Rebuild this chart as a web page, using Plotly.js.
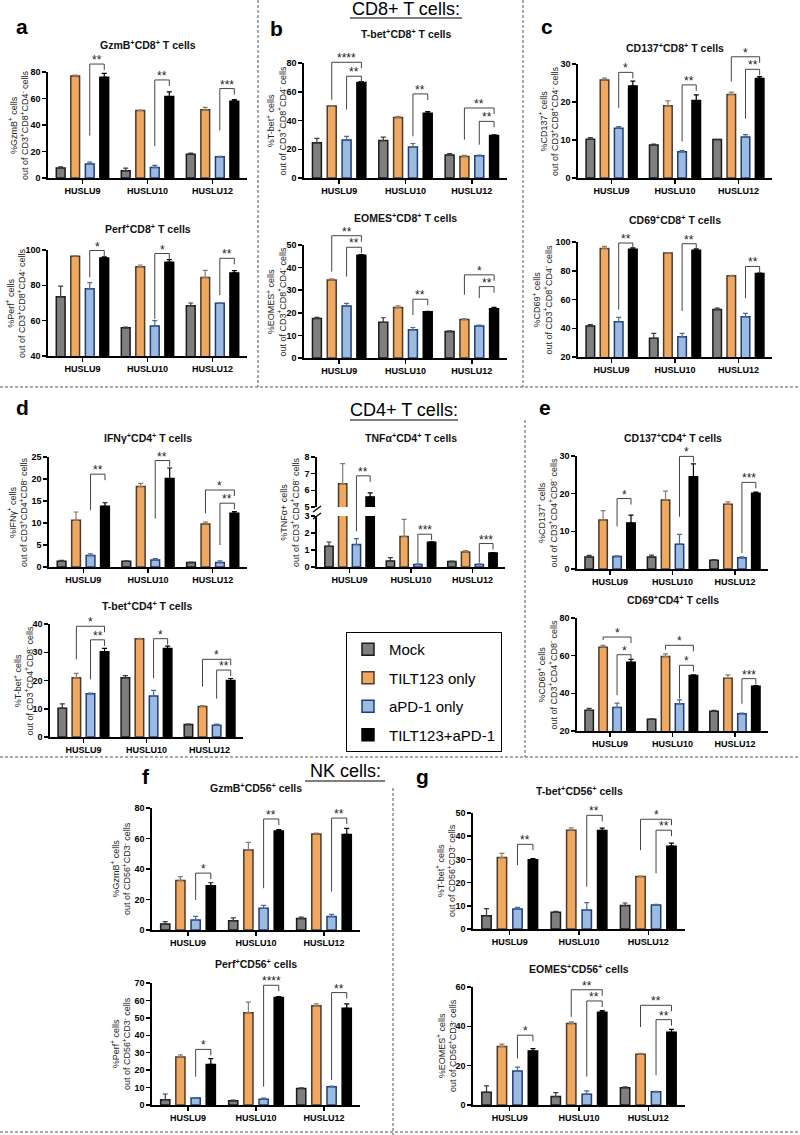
<!DOCTYPE html>
<html><head><meta charset="utf-8">
<script src="https://cdn.plot.ly/plotly-3.0.1.min.js"></script>
<style>html,body{margin:0;padding:0;background:#fff}#chart{width:800px;height:1135px}</style>
</head><body><div id="chart"></div>
<script>
// ---------- DATA ----------
const groups = ['HUSLU9','HUSLU10','HUSLU12'];
const seriesNames = ['Mock','TILT123 only','aPD-1 only','TILT123+aPD-1'];
// each *_mean / *_sem: [Mock, TILT123 only, aPD-1 only, TILT123+aPD-1] x [HUSLU9, HUSLU10, HUSLU12]
const gzmbCD8_mean = [[7.5,5.5,18],[77,51,51.5],[10.5,8,16],[76,61.5,58]];
const gzmbCD8_sem  = [[1,2,0.8],[0.6,0.3,1.8],[1.5,1.5,0.3],[3,3.5,1.2]];
const perfCD8_mean = [[73.5,56,68.5],[96.5,90.5,84.5],[78,57,69.8],[95.5,93,87]];
const perfCD8_sem  = [[6,0.3,1.5],[0.3,1,4],[3.5,3,0.3],[0.6,1.5,1.3]];
const tbetCD8_mean = [[24.5,26,16],[50,42,15],[26.5,21.5,15.5],[66.5,45,29.5]];
const tbetCD8_sem  = [[3,2.5,1],[0.2,0.8,0.8],[2.5,2.5,0.4],[0.6,1.2,0.6]];
const eomesCD8_mean = [[17.5,15.8,11.7],[34.5,22.3,17],[23,12.5,14.2],[45.5,20.5,21.8]];
const eomesCD8_sem  = [[0.5,2,0.3],[0.5,0.8,0.4],[1.2,1,0.4],[0.2,0.1,0.6]];
const cd137CD8_mean = [[10.2,8.7,10.1],[25.8,19,22],[13.1,6.9,10.8],[24.2,20.4,26.2]];
const cd137CD8_sem  = [[0.4,0.2,0.1],[0.5,1.3,0.6],[0.4,0.3,0.6],[1.3,1.5,0.5]];
const cd69CD8_mean = [[41.5,33,53],[95.5,92.3,76.5],[44.5,34,48],[95,94.3,78]];
const cd69CD8_sem  = [[1,3.5,1],[1.5,0.3,0.3],[3,2.5,2.3],[1,1,0.3]];
const ifngCD4_mean = [[1.3,1.3,1.0],[10.6,18.3,9.8],[2.6,1.6,1.0],[13.8,20.1,12.2]];
const ifngCD4_sem  = [[0.2,0.1,0.1],[1.9,0.7,0.4],[0.4,0.3,0.4],[0.8,2.4,0.4]];
const tnfaCD4_mean = [[1.22,0.35,0.32],[6.4,1.8,0.88],[1.32,0.15,0.15],[5.6,1.45,0.83]];
const tnfaCD4_sem  = [[0.25,0.2,0.03],[1.2,1.0,0.08],[0.35,0.03,0.03],[0.25,0.03,0.02]];
const tbetCD4_mean = [[10.2,21,4.4],[21,34.8,10.8],[15.3,14.5,4.2],[30.2,31.3,20]];
const tbetCD4_sem  = [[1.5,0.7,0.2],[1.5,0.1,0.3],[0.2,2,0.4],[1.2,0.9,0.7]];
const cd137CD4_mean = [[3.2,3.2,2.3],[13,18.3,17.2],[3.3,6.6,3],[12.2,24.5,20.1]];
const cd137CD4_sem  = [[0.4,0.5,0.2],[2.5,2.4,0.6],[0.2,2.6,0.2],[2.1,3.4,0.3]];
const cd69CD4_mean = [[31,26.2,30.5],[64.5,59.5,48],[32.5,34.5,29.2],[56.5,49.5,43.8]];
const cd69CD4_sem  = [[1,0.3,0.5],[1,1.5,1.8],[2.3,2,0.3],[1.5,0.3,0.3]];
const gzmbCD56_mean = [[4,6,7.5],[32.5,52.5,63],[6.5,14.2,8.8],[29,65,62.7]];
const gzmbCD56_sem  = [[1.5,2,1],[2.5,5,0.6],[2.5,2,1.5],[2,0.8,4]];
const perfCD56_mean = [[3,2.5,9.5],[27.5,53,57],[4,3.3,10.5],[23.3,61.7,55.5]];
const perfCD56_sem  = [[3.3,0.3,0.3],[1.3,6,1],[0.3,0.7,0.3],[3.3,0.5,2.5]];
const tbetCD56_mean = [[5.7,7.2,10.1],[30.8,42.6,22.6],[8.6,8.2,10.3],[29.8,42.5,35.7]];
const tbetCD56_sem  = [[3.1,0.4,1.1],[1.8,1,0.2],[0.7,3.2,0.3],[0.5,1,1.3]];
const eomesCD56_mean = [[6.5,4.3,8.8],[29.8,41.5,25.8],[17.3,5.5,6.7],[27.5,47.2,37]];
const eomesCD56_sem  = [[3.2,2,0.4],[1.2,0.8,0.4],[2,1.7,0.2],[1.2,0.8,1.5]];

// ---------- LAYOUT / STYLE ----------
const W = 800, H = 1135;
const FONT = 'Liberation Sans, Arial, Helvetica, sans-serif';
const fx = px => px / W, fy = py => 1 - py / H;
const XR = [-0.53, 2.53];
const OFF = [-0.335, -0.112, 0.112, 0.335];
const BW = 0.135;
const FILL = ['#7f7f7f','#f0a860','#9dbbe0','#000000'];
const EDGE = ['#1a1a1a','#4d3b2a','#1f3d7a','#000000'];
const ERRC = ['#3a3a3a','#8c7b6b','#4a6a9a','#000000'];
const S = '<sup>+</sup>';
const CD8SUB = 'out of CD3<sup>+</sup>CD8<sup>+</sup>CD4<sup>-</sup> cells';
const CD4SUB = 'out of CD3<sup>+</sup>CD4<sup>+</sup>CD8<sup>-</sup> cells';
const NKSUB = 'out of CD56<sup>+</sup>CD3<sup>-</sup> cells';

// sig: [group, fromSeries, label, bracketTop, leftLegBottom]
const panels = [
 {mean:gzmbCD8_mean, sem:gzmbCD8_sem, title:'GzmB'+S+'CD8'+S+' T cells', yl:'%GzmB'+S+' cells', sub:CD8SUB,
  x0:48,x1:247,yT:72,yB:178,range:[0,80],dtick:20,ty:45,ylx:19,
  sig:[[0,2,'**',86,32],[1,2,'**',74,24],[2,2,'***',67.5,36]]},
 {mean:perfCD8_mean, sem:perfCD8_sem, title:'Perf'+S+'CD8'+S+' T cells', yl:'%Perf'+S+' cells', sub:CD8SUB,
  x0:48,x1:247,yT:250,yB:356,range:[40,100],dtick:20,ty:228,ylx:15,
  sig:[[0,2,'*',99.7,84.5],[1,2,'*',98,61],[2,2,'**',95.3,74.5]]},
 {mean:tbetCD8_mean, sem:tbetCD8_sem, title:'T-bet'+S+'CD8'+S+' T cells', yl:'%T-bet'+S+' cells', sub:CD8SUB,
  x0:304,x1:507,yT:63,yB:178,range:[0,80],dtick:20,ty:33,ylx:276,
  sig:[[0,1,'****',80.5,54.5],[0,2,'**',70.8,47.6],[1,2,'**',58.5,29],[2,1,'**',48.7,26.7],[2,2,'**',39.4,23.2]]},
 {mean:eomesCD8_mean, sem:eomesCD8_sem, title:'EOMES'+S+'CD8'+S+' T cells', yl:'%EOMES'+S+' cells', sub:CD8SUB,
  x0:304,x1:507,yT:245,yB:358,range:[0,50],dtick:10,ty:217,ylx:276,
  sig:[[0,1,'**',54.1,38.2],[0,2,'**',49,36],[1,2,'**',26,19],[2,1,'*',36.8,28],[2,2,'**',31.6,26.5]]},
 {mean:cd137CD8_mean, sem:cd137CD8_sem, title:'CD137'+S+'CD8'+S+' T cells', yl:'%CD137'+S+' cells', sub:CD8SUB,
  x0:578,x1:772,yT:64,yB:178,range:[0,30],dtick:10,ty:47,ylx:548,
  sig:[[0,2,'*',27.8,18.4],[1,2,'**',24.5,9.6],[2,1,'*',31.9,25.4],[2,2,'**',28.6,15.6]]},
 {mean:cd69CD8_mean, sem:cd69CD8_sem, title:'CD69'+S+'CD8'+S+' T cells', yl:'%CD69'+S+' cells', sub:CD8SUB,
  x0:578,x1:772,yT:242,yB:357,range:[20,100],dtick:20,ty:220,ylx:542,
  sig:[[0,2,'**',99.3,52.9],[1,2,'**',98.8,52],[2,2,'**',83,61]]},
 {mean:ifngCD4_mean, sem:ifngCD4_sem, title:'IFNγ'+S+'CD4'+S+' T cells', yl:'%IFNγ'+S+' cells', sub:CD4SUB,
  x0:49,x1:247,yT:457,yB:567,range:[0,25],dtick:5,ty:437,ylx:17,
  sig:[[0,2,'**',21.1,12.9],[1,2,'**',24.2,11],[2,1,'*',17.5,12.2],[2,2,'**',14.5,5]]},
 {mean:tnfaCD4_mean, sem:tnfaCD4_sem, title:'TNFα'+S+'CD4'+S+' T cells', yl:'%TNFα+ cells', sub:CD4SUB,
  x0:317,x1:505,yT:516,yB:567,range:[0,3],dtick:1,ty:438,ylx:290,
  upper:{yT:457,yB:507,range:[5,8]},
  sig:[[0,2,'**',6.87,2.1],[1,2,'***',1.93,0.25],[2,2,'***',1.38,0.25]]},
 {mean:tbetCD4_mean, sem:tbetCD4_sem, title:'T-bet'+S+'CD4'+S+' T cells', yl:'%T-bet'+S+' cells', sub:CD4SUB,
  x0:50,x1:243,yT:624,yB:737,range:[0,40],dtick:10,ty:605,ylx:23,
  sig:[[0,1,'*',39.2,27.5],[0,2,'**',34.4,20.4],[1,2,'*',34.8,20.8],[2,1,'*',27.5,17.8],[2,2,'**',23.7,13.6]]},
 {mean:cd137CD4_mean, sem:cd137CD4_sem, title:'CD137'+S+'CD4'+S+' T cells', yl:'%CD137'+S+' cells', sub:CD4SUB,
  x0:577,x1:768,yT:456,yB:569,range:[0,30],dtick:10,ty:437,ylx:547,
  sig:[[0,2,'*',18.7,11.3],[1,2,'*',29.9,13.9],[2,2,'***',23,4.2]]},
 {mean:cd69CD4_mean, sem:cd69CD4_sem, title:'CD69'+S+'CD4'+S+' T cells', yl:'%CD69'+S+' cells', sub:CD4SUB,
  x0:577,x1:768,yT:618,yB:731,range:[20,80],dtick:20,ty:599,ylx:547,
  sig:[[0,1,'*',69.9,68.3],[0,2,'*',60.5,39],[1,1,'*',65.5,63.2],[1,2,'*',54.9,37.2],[2,2,'***',47.8,34.5]]},
 {mean:gzmbCD56_mean, sem:gzmbCD56_sem, title:'GzmB'+S+'CD56'+S+' cells', yl:'%GzmB'+S+' cells', sub:NKSUB,
  x0:152,x1:360,yT:808,yB:930,range:[0,80],dtick:20,ty:787,ylx:120,
  sig:[[0,2,'*',37.3,19.7],[1,2,'**',72.8,27.4],[2,2,'**',73.4,25.2]]},
 {mean:perfCD56_mean, sem:perfCD56_sem, title:'Perf'+S+'CD56'+S+' cells', yl:'%Perf'+S+' cells', sub:NKSUB,
  x0:152,x1:360,yT:983,yB:1105,range:[0,70],dtick:10,ty:963,ylx:120,
  sig:[[0,2,'*',31.9,16.2],[1,2,'****',68.7,10.5],[2,2,'**',64.5,14.3]]},
 {mean:tbetCD56_mean, sem:tbetCD56_sem, title:'T-bet'+S+'CD56'+S+' cells', yl:'%T-bet'+S+' cells', sub:NKSUB,
  x0:473,x1:685,yT:813,yB:929,range:[0,50],dtick:10,ty:790,ylx:446,
  sig:[[0,2,'**',36.5,27.5],[1,2,'**',49,18.2],[2,1,'*',47.3,34],[2,2,'**',42.6,24]]},
 {mean:eomesCD56_mean, sem:eomesCD56_sem, title:'EOMES'+S+'CD56'+S+' cells', yl:'%EOMES'+S+' cells', sub:NKSUB,
  x0:473,x1:685,yT:987,yB:1105,range:[0,60],dtick:20,ty:968,ylx:446,
  sig:[[0,2,'*',35.5,23.6],[1,1,'**',58.6,44.8],[1,2,'**',52.9,14.4],[2,1,'**',50.7,39.7],[2,2,'**',43.4,15.2]]}
];

const data = [], shapes = [], annotations = [];
const layout = {
  width: W, height: H, margin:{l:0,r:0,t:0,b:0}, paper_bgcolor:'#fff', plot_bgcolor:'rgba(0,0,0,0)',
  barmode:'overlay', font:{family:FONT, color:'#000'}, hovermode:false,
  showlegend:true,
  legend:{x:fx(346), y:fy(632), xanchor:'left', yanchor:'top', bordercolor:'#000', borderwidth:1,
          bgcolor:'#fff', font:{family:FONT,size:15,color:'#000'}, traceorder:'grouped', tracegroupgap:6, itemwidth:32}
};

function axName(n){ return n===1 ? '' : String(n); }
function valPy(p, v){
  if (p.upper && v > (p.range[1] + p.upper.range[0]) / 2) {
    const u = p.upper; return u.yB - (v - u.range[0]) / (u.range[1] - u.range[0]) * (u.yB - u.yT);
  }
  return p.yB - (v - p.range[0]) / (p.range[1] - p.range[0]) * (p.yB - p.yT);
}
function barPx(p, g, k){ return p.x0 + (g + OFF[k] - XR[0]) / (XR[1] - XR[0]) * (p.x1 - p.x0); }

function yAxisDef(dom, range, dtick, anchor){
  return {domain:dom, range:range, dtick:dtick, tick0:range[0], anchor:anchor, showline:true, linecolor:'#000',
    linewidth:1.6, ticks:'outside', ticklen:4, tickwidth:1.5, tickcolor:'#000', showgrid:false, zeroline:false,
    fixedrange:true, tickfont:{family:FONT,size:9,color:'#000',weight:'bold'}};
}

panels.forEach((p, i) => {
  const n = i + 1, xa = 'x' + axName(n), ya = 'y' + axName(n);
  layout['xaxis' + axName(n)] = {domain:[fx(p.x0), fx(p.x1)], range:XR, anchor:ya, tickmode:'array',
    tickvals:[0,1,2], ticktext:groups, showline:true, linecolor:'#000', linewidth:1.6, ticks:'outside',
    ticklen:4, tickwidth:1.5, tickcolor:'#000', showgrid:false, zeroline:false, fixedrange:true,
    tickfont:{family:FONT,size:9,color:'#000',weight:'bold'}};
  layout['yaxis' + axName(n)] = yAxisDef([fy(p.yB), fy(p.yT)], p.range, p.dtick, xa);
  const yaxes = [ya];
  if (p.upper) {
    const un = 16;
    layout['yaxis' + un] = yAxisDef([fy(p.upper.yB), fy(p.upper.yT)], p.upper.range, p.dtick, xa);
    yaxes.push('y' + un);
  }
  yaxes.forEach((yax, j) => {
    for (let k = 0; k < 4; k++) {
      data.push({type:'bar', xaxis:xa, yaxis:yax, name:seriesNames[k], legendgroup:'s'+k,
        showlegend:(i===0 && j===0), x:groups.map((g, gi) => gi + OFF[k]), y:p.mean[k], width:BW,
        marker:{color:FILL[k], line:{color:EDGE[k], width:1.5}},
        error_y:{type:'data', symmetric:false, array:p.sem[k], arrayminus:p.sem[k].map(() => 0),
                 color:ERRC[k], thickness:1.2, width:2.5},
        hoverinfo:'skip'});
    }
  });
  // panel title
  annotations.push({xref:'paper', yref:'paper', x:fx((p.x0 + p.x1) / 2), y:fy(p.ty), xanchor:'center', yanchor:'middle',
    text:'<b>' + p.title + '</b>', showarrow:false, font:{family:FONT,size:10.5,color:'#111'}});
  // y label
  const yc = p.upper ? (p.upper.yT + p.yB) / 2 : (p.yT + p.yB) / 2;
  annotations.push({xref:'paper', yref:'paper', x:fx(p.ylx), y:fy(yc), xanchor:'center', yanchor:'middle',
    textangle:-90, text:p.yl + '<br>' + p.sub, showarrow:false, font:{family:FONT,size:9,color:'#222'}});
  // significance brackets
  p.sig.forEach(s => {
    const [g, from, label, top, left] = s;
    const xa1 = barPx(p, g, from), xb1 = barPx(p, g, 3);
    const yt = valPy(p, top), yl = valPy(p, left), yr = yt + 6;
    shapes.push({type:'path', xref:'paper', yref:'paper',
      path:`M${fx(xa1)},${fy(yl)}L${fx(xa1)},${fy(yt)}L${fx(xb1)},${fy(yt)}L${fx(xb1)},${fy(yr)}`,
      line:{color:'#444', width:1}});
    annotations.push({xref:'paper', yref:'paper', x:fx((xa1 + xb1) / 2), y:fy(yt), xanchor:'center', yanchor:'bottom',
      yshift:-5, text:label, showarrow:false, font:{family:FONT,size:12,color:'#222'}});
  });
  if (p.upper) {
    [[313,512,321,506],[313,519,321,513]].forEach(b => shapes.push({type:'line', xref:'paper', yref:'paper',
      x0:fx(b[0]), y0:fy(b[1]), x1:fx(b[2]), y1:fy(b[3]), line:{color:'#000', width:1.3}}));
  }
});

// section headers
[['CD8+ T cells:',406,9,350,462,18],['CD4+ T cells:',404,410,350,458,420],['NK cells:',345,771,305,385,781]].forEach(h => {
  annotations.push({xref:'paper', yref:'paper', x:fx(h[1]), y:fy(h[2]), xanchor:'center', yanchor:'middle',
    text:h[0], showarrow:false, font:{family:FONT,size:18,color:'#000'}});
  shapes.push({type:'line', xref:'paper', yref:'paper', x0:fx(h[3]), x1:fx(h[4]), y0:fy(h[5]), y1:fy(h[5]),
    line:{color:'#000', width:1.2}});
});
// panel letters
[['a',22,26],['b',276,28],['c',547,26],['d',22,408],['e',545,408],['f',146,776],['g',422,776]].forEach(l => {
  annotations.push({xref:'paper', yref:'paper', x:fx(l[1]), y:fy(l[2]), xanchor:'center', yanchor:'middle',
    text:'<b>' + l[0] + '</b>', showarrow:false, font:{family:FONT,size:21,color:'#000'}});
});
// dashed separators
[[258,0,258,387],[523,0,523,387],[0,387,800,387],[525,420,525,757],[0,757,800,757],[393,788,393,1135],[0,1132,800,1132]]
 .forEach(d => shapes.push({type:'line', xref:'paper', yref:'paper', x0:fx(d[0]), y0:fy(d[1]), x1:fx(d[2]), y1:fy(d[3]),
   line:{color:'#555', width:1, dash:'3px,2px'}}));

layout.shapes = shapes;
layout.annotations = annotations;
Plotly.newPlot('chart', data, layout, {staticPlot:true, displayModeBar:false});
</script>
</body></html>
